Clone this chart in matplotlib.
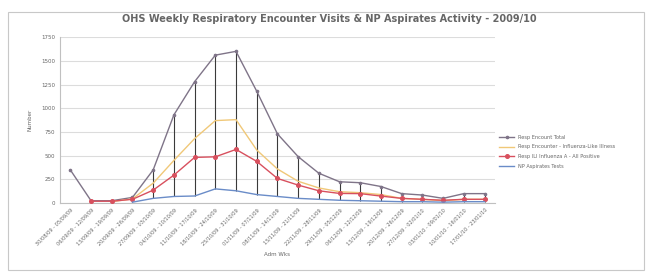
import matplotlib.pyplot as plt
import numpy as np

# weekly admission periods (week start - week end)
weeks = ['30/08/09 - 05/09/09', '06/09/09 - 12/09/09', '13/09/09 - 19/09/09',
         '20/09/09 - 26/09/09', '27/09/09 - 03/10/09', '04/10/09 - 10/10/09',
         '11/10/09 - 17/10/09', '18/10/09 - 24/10/09', '25/10/09 - 31/10/09',
         '01/11/09 - 07/11/09', '08/11/09 - 14/11/09', '15/11/09 - 21/11/09',
         '22/11/09 - 28/11/09', '29/11/09 - 05/12/09', '06/12/09 - 12/12/09',
         '13/12/09 - 19/12/09', '20/12/09 - 26/12/09', '27/12/09 - 02/01/10',
         '03/01/10 - 09/01/10', '10/01/10 - 16/01/10', '17/01/10 - 23/01/10']

total = [350, 25, 25, 60, 350, 930, 1280, 1560, 1600, 1180, 730,
         490, 315, 225, 215, 175, 100, 85, 50, 100, 100]
ili = [None, None, 15, 45, 210, 450, 680, 870, 880, 560, 360,
       230, 160, 120, 110, 90, 50, 40, 25, 40, 40]
flu = [None, 20, 20, 40, 137, 295, 482, 488, 566, 440, 260,
       190, 130, 102, 100, 74, 50, 40, 30, 40, 40]
np_tests = [None, None, None, 10, 50, 70, 75, 150, 130, 90, 70,
            50, 40, 30, 25, 20, 15, 15, 10, 15, 15]

names = ['Resp Encount Total', 'Resp Encounter - Influenza-Like Illness',
         'Resp ILI Influenza A - All Positive', 'NP Aspirates Tests']
colors = ['#7f7488', '#f0c878', '#d8505e', '#6a8cc8']

x = np.arange(len(weeks))

fig = plt.figure(figsize=(6.52, 2.73), dpi=100)
ax = fig.add_axes([0.092, 0.256, 0.667, 0.608])

# border round the whole chart area
fig.patches.append(plt.Rectangle((0.012, 0.012), 0.976, 0.945, transform=fig.transFigure,
                                 fill=False, edgecolor='#c8c8c8', linewidth=0.8))

series = [total, ili, flu, np_tests]
arr = np.array([[np.nan if v is None else v for v in s] for s in series], dtype=float)

# high-low lines
hi = np.nanmax(arr, axis=0)
lo = np.nanmin(arr, axis=0)
ax.vlines(x, lo, hi, color='#3a3a3a', linewidth=0.8, zorder=2)

marks = [('o', 1.6), (None, 0), ('o', 2.6), (None, 0)]
for (vals, name, c, (mk, ms)) in zip(arr, names, colors, marks):
    ax.plot(x, vals, color=c, linewidth=1.0, marker=mk, markersize=ms,
            label=name, zorder=3)

ax.set_xlim(-0.5, len(weeks) - 0.5)
ax.set_ylim(0, 1750)
ax.set_yticks(np.arange(0, 1751, 250))
ax.yaxis.grid(True, color='#dcdcdc', linewidth=0.8)
ax.set_axisbelow(True)
ax.set_xticks(x)
ax.set_xticklabels(weeks, rotation=45, ha='right', rotation_mode='anchor',
                   fontsize=3.6, color='#666666')
ax.tick_params(axis='y', labelsize=4, colors='#666666', length=0)
ax.tick_params(axis='x', length=0, pad=3)
for s in ['top', 'right']:
    ax.spines[s].set_visible(False)
ax.spines['left'].set_color('#c0c0c0')
ax.spines['bottom'].set_color('#c0c0c0')

ax.set_ylabel('Number', fontsize=4, color='#666666', labelpad=6)
ax.set_xlabel('Adm Wks', fontsize=4, color='#666666', labelpad=4)

fig.text(0.505, 0.932, 'OHS Weekly Respiratory Encounter Visits & NP Aspirates Activity - 2009/10',
         ha='center', va='center', fontsize=7, fontweight='bold', color='#666666')

ax.legend(loc='center left', bbox_to_anchor=(1.0, 0.31), frameon=False,
          fontsize=3.6, handlelength=3, labelcolor='#666666', labelspacing=0.95)

fig.savefig('out.png', dpi=100)
